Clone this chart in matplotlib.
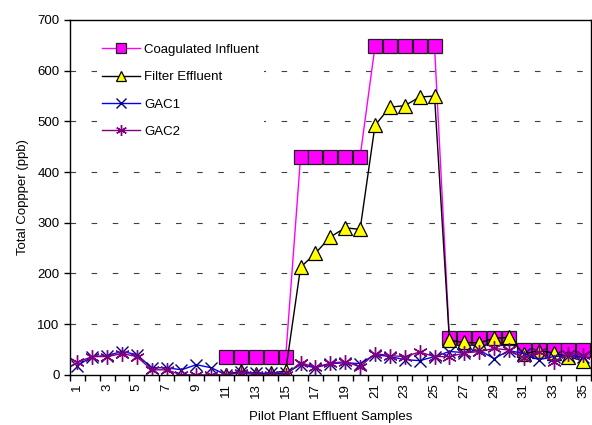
import numpy as np
import matplotlib.pyplot as plt
from matplotlib.ticker import FixedLocator, NullFormatter

plt.rcParams['font.family'] = ['Liberation Sans', 'DejaVu Sans']
plt.rcParams['font.size'] = 9

samples = list(range(1, 36))
sample_labels = [str(s) if s % 2 == 1 else '' for s in samples]

# copper results per sample (ppb); influent/filter only sampled from 11 on
coag_influent = [np.nan] * 10 + [35, 35, 35, 35, 35,
                                 430, 430, 430, 430, 430,
                                 648, 648, 648, 648, 648,
                                 72, 72, 72, 72, 72,
                                 50, 50, 50, 50, 50]
filter_effluent = [np.nan] * 10 + [0, 8, 2, 3, 8,
                                   212, 240, 272, 290, 287,
                                   492, 528, 531, 548, 550,
                                   68, 64, 63, 72, 74,
                                   41, 48, 43, 36, 27]
gac1 = [18, 36, 38, 46, 40, 14, 14, 10, 20, 14,
        0, 6, 3, 3, 3, 20, 14, 22, 24, 22,
        40, 36, 30, 28, 36, 46, 44, 49, 32, 48,
        42, 30, 36, 38, 36]
gac2 = [25, 36, 36, 42, 36, 10, 10, 0, 0, 0,
        0, 4, 0, 0, 0, 24, 15, 23, 26, 16,
        42, 38, 36, 45, 36, 36, 43, 46, 52, 49,
        33, 46, 26, 42, 40]

fig = plt.figure(figsize=(5.92, 4.25), dpi=100)
ax = fig.add_axes([0.118, 0.118, 0.880, 0.835])

ax.plot(samples, coag_influent, color='#FF00FF', lw=1.0, marker='s',
        ms=9.5, mfc='#FF00FF', mec='#202020', mew=0.9, label='Coagulated Influent')
ax.plot(samples, filter_effluent, color='black', lw=1.0, marker='^',
        ms=10, mfc='#FFFF00', mec='black', mew=0.9, label='Filter Effluent')
ax.plot(samples, gac1, color='#0000FF', lw=1.0, marker='x',
        ms=9, mec='#000080', mew=1.0, label='GAC1')
ax.plot(samples, gac2, color='#800080', lw=1.0, marker=(6, 2, 0),
        ms=10.5, mec='#800080', mew=1.0, label='GAC2')

ax.set_xlim(0.5, 35.5)
ax.set_ylim(0, 700)
ax.set_yticks(range(0, 701, 100))

# category axis: ticks between samples, labels on odd samples
ax.xaxis.set_major_locator(FixedLocator(samples))
ax.set_xticklabels(sample_labels, rotation=90)
ax.tick_params(axis='x', which='major', length=0, pad=6)
ax.xaxis.set_minor_locator(FixedLocator(np.arange(0.5, 36, 1)))
ax.xaxis.set_minor_formatter(NullFormatter())
ax.tick_params(axis='x', which='minor', length=4, direction='out', width=1)
ax.tick_params(axis='y', length=4, direction='out', width=1)
ax.tick_params(labelsize=9.5)

for v in range(100, 700, 100):
    ax.axhline(v, color='#404040', lw=0.8, ls=(0, (5, 14)), zorder=0)

for side in ['top', 'right', 'left', 'bottom']:
    ax.spines[side].set_linewidth(1.0)

ax.set_xlabel('Pilot Plant Effluent Samples', fontsize=9.5, labelpad=9)
ax.set_ylabel('Total Coppper (ppb)', fontsize=9.5, labelpad=6)

leg = ax.legend(loc='upper left', bbox_to_anchor=(0.04, 0.965), frameon=True,
                facecolor='white', edgecolor='none', framealpha=1.0,
                fontsize=9.5, handlelength=2.9, labelspacing=1.15,
                handletextpad=0.3, markerscale=0.75, borderpad=0.35)
leg.get_frame().set_linewidth(0)

fig.savefig('out.png', dpi=100)
